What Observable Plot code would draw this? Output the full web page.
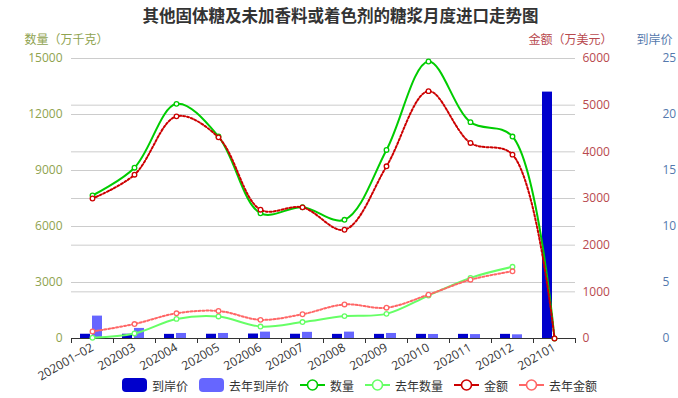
<!DOCTYPE html>
<html><head><meta charset="utf-8">
<script src="https://cdn.jsdelivr.net/npm/d3@7"></script>
<script src="https://cdn.jsdelivr.net/npm/@observablehq/plot@0.6"></script>
<style>
body{margin:0;background:#fff;font-family:"Open Sans","Noto Sans CJK SC",sans-serif;}
#wrap{width:678px;height:398px;position:relative;overflow:hidden;}
#legend{position:absolute;left:122px;top:374px;height:22px;display:flex;align-items:center;font-size:12px;color:#333;font-family:"Noto Sans CJK SC",sans-serif;}
.item{display:flex;align-items:center;margin-right:11px;}
.item svg{margin-right:5px;}
</style></head><body><div id="wrap"><div id="chart"></div><div id="legend"></div></div>
<script>
const categories = ["202001~02","202003","202004","202005","202006","202007","202008","202009","202010","202011","202012","202101"];
const quantity = [7660, 9150, 12570, 10820, 6710, 7030, 6360, 10100, 14840, 11590, 10820, 0];
const amount = [3000, 3510, 4760, 4310, 2760, 2810, 2330, 3690, 5300, 4190, 3940, 0];
const quantityLastYear = [40, 270, 1050, 1180, 640, 880, 1200, 1320, 2300, 3250, 3840, null];
const amountLastYear = [150, 310, 540, 590, 400, 520, 730, 660, 940, 1260, 1440, null];
const price = [0.38, 0.38, 0.37, 0.38, 0.4, 0.38, 0.37, 0.37, 0.37, 0.37, 0.37, 22.0];
const priceLastYear = [2.0, 0.9, 0.45, 0.45, 0.57, 0.55, 0.57, 0.45, 0.36, 0.35, 0.33, null];
const quantityTicks = [0, 3000, 6000, 9000, 12000, 15000];
const amountTicks = [0, 1000, 2000, 3000, 4000, 5000, 6000];
const priceTicks = [0, 5, 10, 15, 20, 25];
const title = "其他固体糖及未加香料或着色剂的糖浆月度进口走势图";
const axisNames = ["数量（万千克）", "金额（万美元）", "到岸价"];
const seriesNames = ["到岸价", "去年到岸价", "数量", "去年数量", "金额", "去年金额"];

const C = {price:"#0000cc", priceL:"#6666ff", q:"#00cc00", qL:"#66ff66", a:"#cc0000", aL:"#ff6666",
  leftAxis:"#8fa350", rightAxis:"#b8494e", priceAxis:"#5579ad"};
const AK = 15000 / 6000, PK = 15000 / 25;

const rows = categories.map((c, i) => ({c, q: quantity[i], a: amount[i] * AK,
  ql: quantityLastYear[i], al: amountLastYear[i] == null ? null : amountLastYear[i] * AK,
  p: price[i] * PK, pl: priceLastYear[i] == null ? null : priceLastYear[i] * PK}));
const rowsL = rows.filter(d => d.ql != null);

const FONT = '"Open Sans","Noto Sans CJK SC",sans-serif';
const CJK = '"Noto Sans CJK SC",sans-serif';
const chart = Plot.plot({
  width: 678, height: 372, marginLeft: 71, marginRight: 103, marginTop: 58, marginBottom: 34,
  style: {fontFamily: FONT, fontSize: "12px", color: "#333", background: "#fff", overflow: "visible"},
  x: {type: "band", domain: categories, padding: 0, tickRotate: -30, tickSize: 0, tickPadding: 8, label: null},
  y: {domain: [0, 15000], axis: null},
  marks: [
    Plot.ruleY(quantityTicks.filter(d => d > 0), {stroke: "#ccc"}),
    Plot.ruleY(amountTicks.filter(d => d > 0), {y: d => d * AK, stroke: "#ccc"}),
    Plot.barY(rows, {x: "c", y: "p", fill: C.price, insetLeft: 9, insetRight: 23}),
    Plot.barY(rowsL, {x: "c", y: "pl", fill: C.priceL, insetLeft: 21, insetRight: 11}),
    Plot.ruleY([0], {stroke: "#333"}),
    Plot.ruleX(categories, {x: d => d, dx: -21, y1: 0, y2: 0, insetBottom: -5, stroke: "#333"}),
    Plot.ruleX([categories[categories.length - 1]], {x: d => d, dx: 21, y1: 0, y2: 0, insetBottom: -5, stroke: "#333"}),
    Plot.line(rows, {x: "c", y: "q", stroke: C.q, strokeWidth: 2, curve: "catmull-rom"}),
    Plot.dot(rows, {x: "c", y: "q", r: 2.3, stroke: C.q, fill: "white", strokeWidth: 1.3}),
    Plot.line(rowsL, {x: "c", y: "ql", stroke: C.qL, strokeWidth: 2, curve: "catmull-rom"}),
    Plot.dot(rowsL, {x: "c", y: "ql", r: 2.3, stroke: C.qL, fill: "white", strokeWidth: 1.3}),
    Plot.line(rows, {x: "c", y: "a", stroke: C.a, strokeWidth: 2, strokeDasharray: "2,2", curve: "catmull-rom"}),
    Plot.dot(rows, {x: "c", y: "a", r: 2.3, stroke: C.a, fill: "white", strokeWidth: 1.3}),
    Plot.line(rowsL, {x: "c", y: "al", stroke: C.aL, strokeWidth: 2, strokeDasharray: "2,2", curve: "catmull-rom"}),
    Plot.dot(rowsL, {x: "c", y: "al", r: 2.3, stroke: C.aL, fill: "white", strokeWidth: 1.3}),
    Plot.text(quantityTicks, {y: d => d, text: d => String(d), frameAnchor: "left", dx: -9, textAnchor: "end", fill: C.leftAxis}),
    Plot.text(amountTicks, {y: d => d * AK, text: d => String(d), frameAnchor: "right", dx: 7, textAnchor: "start", fill: C.rightAxis}),
    Plot.text(priceTicks, {y: d => d * PK, text: d => String(d), frameAnchor: "right", dx: 87, textAnchor: "start", fill: C.priceAxis}),
    Plot.text([title], {text: d => d, frameAnchor: "top", dx: 17, dy: -48, fontSize: 16.5, fontWeight: "bold", fill: "#333", fontFamily: CJK}),
    Plot.text([axisNames[0]], {text: d => d, frameAnchor: "top-left", dx: -5, dy: -23, textAnchor: "middle", fill: C.leftAxis, fontFamily: CJK}),
    Plot.text([axisNames[1]], {text: d => d, frameAnchor: "top-right", dx: -5, dy: -23, textAnchor: "middle", fill: C.rightAxis, fontFamily: CJK}),
    Plot.text([axisNames[2]], {text: d => d, frameAnchor: "top-right", dx: 79, dy: -23, textAnchor: "middle", fill: C.priceAxis, fontFamily: CJK})
  ]
});
document.getElementById("chart").appendChild(chart);

const legendColors = [C.price, C.priceL, C.q, C.qL, C.a, C.aL];
const legend = d3.select("#legend");
seriesNames.forEach((name, i) => {
  const item = legend.append("div").attr("class", "item");
  const svg = item.append("svg").attr("width", 25).attr("height", 14);
  if (i < 2) {
    svg.append("rect").attr("x", 0).attr("y", 0).attr("width", 25).attr("height", 14).attr("rx", 4).attr("fill", legendColors[i]);
  } else {
    svg.append("line").attr("x1", 0).attr("x2", 25).attr("y1", 7).attr("y2", 7).attr("stroke", legendColors[i]).attr("stroke-width", 2);
    svg.append("circle").attr("cx", 12.5).attr("cy", 7).attr("r", 5).attr("fill", "white").attr("stroke", legendColors[i]).attr("stroke-width", 1.6);
  }
  item.append("span").text(name);
});
</script></body></html>
